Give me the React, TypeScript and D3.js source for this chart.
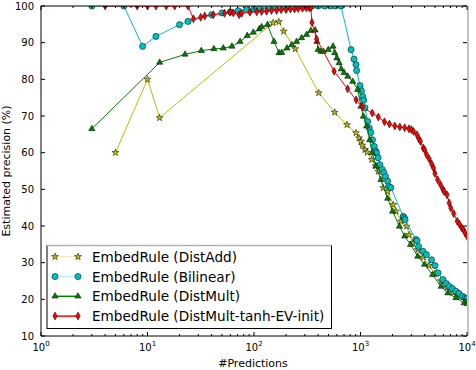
import React from "react";
import * as d3 from "d3";

// [#predictions, estimated precision %]
const distAdd: [number, number][] = [
  [5, 60], [10, 80], [13, 69.5], [151, 95.4], [171, 95.7], [190, 93.1], [244, 88.3],
  [405, 76.3], [572, 71.0], [747, 67.6], [907, 65.4], [968, 64.0], [1011, 63.1],
  [1040, 62.0], [1102, 60.8], [1158, 60.1], [1274, 58.1], [1389, 56.4], [1469, 54.9],
  [1637, 50.4], [1800, 49.4], [2032, 45.8], [2155, 44.0], [2400, 41.3], [2715, 39.9],
  [2873, 37.6], [3090, 35.4], [3445, 33.5], [3900, 31.5], [4400, 29.2], [5000, 27.0],
  [5700, 25.0], [6500, 23.2], [7400, 21.8], [8500, 20.7], [10000, 19.6],
];

const bilinear: [number, number][] = [
  [3, 100], [6, 100], [9, 89.0], [12, 91.7], [20, 94.9], [24, 95.8], [40, 97.6],
  [50, 98.1], [60, 98.4], [71, 98.7], [85, 99.0], [100, 99.2], [115, 99.3], [135, 99.5],
  [160, 99.6], [200, 99.7], [250, 99.8], [300, 99.9], [350, 100], [400, 100], [460, 100],
  [520, 100], [580, 100], [656, 100], [815, 88.1], [869, 85.5], [907, 84.0], [920, 82.4],
  [989, 78.3], [1020, 76.8], [1050, 75.3], [1072, 74.3], [1100, 72.2], [1170, 68.5],
  [1209, 66.7], [1250, 65.5], [1295, 63.5], [1343, 61.7], [1392, 60.4], [1411, 59.9],
  [1463, 58.6], [1524, 56.7], [1599, 55.4], [1655, 54.5], [1717, 53.5], [1800, 52.2],
  [1837, 50.8], [1928, 50.5], [2518, 42.6], [2580, 42.2], [2620, 41.7], [3310, 36.3],
  [3390, 36.0], [3510, 34.4], [3855, 33.1], [4150, 32.2], [4640, 30.8], [5000, 29.2],
  [5340, 27.2], [5940, 25.4], [6400, 24.3], [6830, 23.5], [7300, 22.9], [7870, 22.2],
  [8400, 21.6], [9080, 20.8], [9600, 20.4], [10000, 20.2],
];

const distMult: [number, number][] = [
  [3, 66.5], [13, 84.6], [22.5, 86.8], [32, 87.8], [42, 88.3], [51.5, 88.5], [62, 89.0],
  [74, 90.3], [86.5, 91.9], [98.5, 92.8], [112, 93.7], [118, 94.3], [134, 94.9],
  [154, 90.3], [172, 87.2], [182, 87.3], [204, 88.5], [226, 89.4], [251, 90.3],
  [280, 91.3], [312, 92.2], [342, 93.3], [375, 93.4], [390, 90.3], [400, 88.1],
  [425, 87.6], [448, 87.6], [498, 88.1], [552, 89.0], [573, 87.2], [600, 85.8],
  [630, 84.5], [660, 82.8], [700, 81.8], [760, 80.8], [845, 79.4], [940, 77.2],
  [1010, 72.6], [1065, 69.9], [1140, 67.2], [1220, 63.5], [1290, 59.9], [1395, 56.3],
  [1555, 52.6], [1800, 47.5], [2000, 44.0], [2320, 39.9], [2600, 37.2], [2950, 34.9],
  [3450, 31.7], [3990, 29.5], [4750, 26.7], [5720, 23.5], [6620, 21.7], [7870, 20.4],
  [9390, 19.0], [10000, 18.8],
];

const distMultTanh: [number, number][] = [
  [4, 100], [8, 100], [10, 100], [12, 100], [15, 100], [18, 100], [24, 100],
  [27, 96.5], [31.6, 96.9], [34.5, 97.3], [41.5, 97.6], [53, 98.0], [59.5, 98.3],
  [64, 98.1], [72.5, 97.6], [76.6, 98.0], [91.6, 98.3], [106, 98.4], [118, 98.5],
  [131, 98.6], [146, 98.8], [163, 98.8], [180, 99.0], [200, 99.0], [220, 99.2],
  [240, 99.2], [260, 99.3], [285, 99.4], [310, 99.5], [330, 99.5], [342, 99.6],
  [350, 95.5], [387, 91.0], [565, 82.2], [757, 77.4], [910, 74.4], [1040, 72.5],
  [1290, 70.8], [1470, 69.7], [1680, 68.4], [1870, 67.8], [2100, 67.3], [2340, 67.0],
  [2600, 66.8], [2850, 66.5], [3000, 66.3], [3150, 65.8], [3390, 64.9], [3530, 63.8],
  [3650, 63.1], [3880, 61.3], [4000, 60.8], [4180, 59.4], [4420, 58.3], [4660, 56.9],
  [4850, 55.8], [5000, 54.3], [5300, 52.6], [5630, 51.3], [5940, 50.0], [6100, 49.4],
  [6490, 48.5], [6800, 46.3], [7050, 44.9], [7500, 43.4], [8100, 41.3], [8500, 40.5],
  [8920, 39.5], [9300, 38.9], [9600, 38.1], [10000, 37.2],
];

const seriesNames = [
  "EmbedRule (DistAdd)",
  "EmbedRule (Bilinear)",
  "EmbedRule (DistMult)",
  "EmbedRule (DistMult-tanh-EV-init)",
];
const yTicks = [10, 20, 30, 40, 50, 60, 70, 80, 90, 100];
const xExponents = [0, 1, 2, 3, 4];

const W = 476;
const H = 370;
const left = 41, right = 467, top = 6, bottom = 336;

const x = d3.scaleLog().domain([1, 10000]).range([left, right]);
const y = d3.scaleLinear().domain([10, 100]).range([bottom, top]);

const lineGen = d3
  .line<[number, number]>()
  .x((d) => x(d[0]))
  .y((d) => y(d[1]));

const starPath = d3.symbol().type(d3.symbolStar).size(15)() as string;
const triPath = d3.symbol().type(d3.symbolTriangle).size(17)() as string;
const diamondPath = "M0,-4L2.2,0L0,4L-2.2,0Z";

const styles = [
  { data: distAdd, color: "#bfbf00", legendLine: "#eeeec4", marker: "star" },
  { data: bilinear, color: "#00bfbf", legendLine: "#bfeeee", marker: "circle" },
  { data: distMult, color: "#008000", legendLine: "#008000", marker: "tri" },
  { data: distMultTanh, color: "#ff0000", legendLine: "#ff0000", marker: "diamond" },
];

function Marker({ kind, cx, cy, color }: { kind: string; cx: number; cy: number; color: string }) {
  const common = { fill: color, stroke: "#000", strokeWidth: 0.5 };
  if (kind === "circle") return <circle cx={cx} cy={cy} r={3.1} {...common} />;
  const d = kind === "star" ? starPath : kind === "tri" ? triPath : diamondPath;
  return <path d={d} transform={`translate(${cx},${cy})`} {...common} />;
}

export default function App() {
  const minorX: number[] = [];
  for (let e = 0; e < 4; e++) {
    for (let m = 2; m <= 9; m++) minorX.push(m * Math.pow(10, e));
  }

  return (
    <svg
      width={W}
      height={H}
      style={{ position: "absolute", left: 0, top: 0, background: "#fff" }}
      fontFamily="DejaVu Sans"
    >
      <defs>
        <clipPath id="plot">
          <rect x={left} y={top} width={right - left} height={bottom - top} />
        </clipPath>
      </defs>

      {/* series */}
      <g clipPath="url(#plot)">
        {styles.map((s, i) => (
          <g key={i}>
            <path d={lineGen(s.data) as string} fill="none" stroke={s.color} strokeWidth={1} />
            {s.data.map((d, j) => (
              <Marker key={j} kind={s.marker} cx={x(d[0])} cy={y(d[1])} color={s.color} />
            ))}
          </g>
        ))}
      </g>

      {/* frame */}
      <line x1={left} x2={right} y1={top} y2={top} stroke="#000" />
      <line x1={left} x2={right} y1={bottom} y2={bottom} stroke="#000" />
      <line x1={left} x2={left} y1={top} y2={bottom} stroke="#000" />
      <line x1={right + 1} x2={right + 1} y1={top} y2={bottom} stroke="#c4c4c4" strokeWidth={2} />

      {/* y ticks */}
      {yTicks.map((t) => (
        <g key={t}>
          <line x1={left} x2={left + 4} y1={y(t)} y2={y(t)} stroke="#000" />
          <line x1={right - 4} x2={right} y1={y(t)} y2={y(t)} stroke="#000" />
          <text x={left - 7} y={y(t)} textAnchor="end" dominantBaseline="central" fontSize={10}>
            {t}
          </text>
        </g>
      ))}

      {/* x ticks */}
      {xExponents.map((e) => {
        const px = x(Math.pow(10, e));
        return (
          <g key={e}>
            <line x1={px} x2={px} y1={bottom} y2={bottom - 4} stroke="#000" />
            <line x1={px} x2={px} y1={top} y2={top + 4} stroke="#000" />
            <text x={px} y={bottom + 15} textAnchor="middle" fontSize={10}>
              10
              <tspan dy={-5} fontSize={7}>
                {e}
              </tspan>
            </text>
          </g>
        );
      })}
      {minorX.map((v) => (
        <g key={v}>
          <line x1={x(v)} x2={x(v)} y1={bottom} y2={bottom - 2} stroke="#000" />
          <line x1={x(v)} x2={x(v)} y1={top} y2={top + 2} stroke="#000" />
        </g>
      ))}

      {/* axis labels */}
      <text x={253} y={367} textAnchor="middle" fontSize={11}>
        #Predictions
      </text>
      <text
        transform={`translate(10,${(top + bottom) / 2}) rotate(-90)`}
        textAnchor="middle"
        fontSize={11}
      >
        Estimated precision (%)
      </text>

      {/* legend */}
      <g>
        <rect x={47} y={245.5} width={284.5} height={83} fill="#fff" stroke="#000" strokeWidth={1} />
        <line x1={47} x2={331.5} y1={245.5} y2={245.5} stroke="#b4b4b4" strokeWidth={1.5} />
        {styles.map((s, i) => {
          const ly = 256.7 + i * 19.8;
          return (
            <g key={i}>
              <line x1={55} x2={78} y1={ly} y2={ly} stroke={s.legendLine} strokeWidth={1.5} />
              <Marker kind={s.marker} cx={55} cy={ly} color={s.color} />
              <Marker kind={s.marker} cx={78} cy={ly} color={s.color} />
              <text x={92} y={ly} dominantBaseline="central" fontSize={13.6}>
                {seriesNames[i]}
              </text>
            </g>
          );
        })}
      </g>
    </svg>
  );
}
